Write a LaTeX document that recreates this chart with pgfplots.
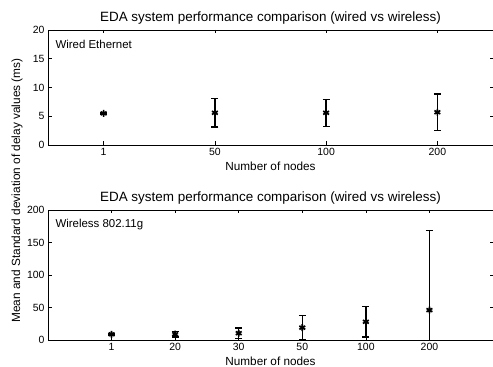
\documentclass[border=0pt]{standalone}
\usepackage{pgfplots}
\pgfplotsset{compat=1.18}
\usepackage{fontspec}
\setmainfont{Liberation Sans}

% wired: index, mean, std
\pgfplotstableread{
x  m    s
1  5.5  0.10
2  5.6  2.50
3  5.6  2.35
4  5.7  3.15
}\wired
% wireless: index, mean, std
\pgfplotstableread{
x  m     s
1  8.8   1.0
2  9.0   4.5
3  10.5  8.0
4  19.0  18.5
5  28.0  23.5
6  46.0  122.0
}\wireless

\pgfplotsset{
  panel/.style={
    scale only axis,
    anchor=south west,
    width=445bp,
    axis line style={line width=0.9pt},
    tick align=inside,
    major tick length=3.5bp,
    tick style={black, line width=0.6pt},
    ticklabel style={font=\fontsize{10.5}{12}\selectfont},
    /pgf/number format/assume math mode=true,
    label style={font=\fontsize{11.8}{12}\selectfont},
    title style={font=\fontsize{13.5}{14}\selectfont, yshift=-4bp},
    xlabel style={yshift=1bp},
    xtick=data,
    clip=true,
  },
  errs/.style={
    only marks, black,
    mark=asterisk, mark size=3.4bp,
    mark options={line width=1.7pt},
    error bars/.cd, y dir=both, y explicit,
    error mark=-,
    error bar style={line width=1.4pt},
    error mark options={rotate=90, line width=1.4pt, mark size=3.5bp},
  },
}

\begin{document}
\begin{tikzpicture}
\useasboundingbox (0,0) rectangle (493bp,367bp);

\begin{axis}[panel,
  at={(48bp,222bp)}, height=115bp,
  xmin=0.5, xmax=4.5, ymin=0, ymax=20,
  ytick={0,5,10,15,20},
  xticklabels={1,50,100,200},
  title={EDA system performance comparison (wired vs wireless)},
  xlabel={Number of nodes},
]
\addplot[errs] table[x=x, y=m, y error=s] {\wired};
\node[anchor=west, font=\fontsize{11.5}{12}\selectfont]
  at ([xshift=4bp]rel axis cs:0,0.878) {Wired Ethernet};
\end{axis}

\begin{axis}[panel,
  at={(48bp,27bp)}, height=130bp,
  xmin=0, xmax=7, ymin=0, ymax=200,
  ytick={0,50,100,150,200},
  xticklabels={1,20,30,50,100,200},
  title={EDA system performance comparison (wired vs wireless)},
  xlabel={Number of nodes},
]
\addplot[errs] table[x=x, y=m, y error=s] {\wireless};
\node[anchor=west, font=\fontsize{11.5}{12}\selectfont]
  at ([xshift=4bp]rel axis cs:0,0.892) {Wireless 802.11g};
\end{axis}

\node[rotate=90, font=\fontsize{11.9}{12}\selectfont] at (17bp,176.5bp)
  {Mean and Standard deviation of delay values (ms)};
\end{tikzpicture}
\end{document}
